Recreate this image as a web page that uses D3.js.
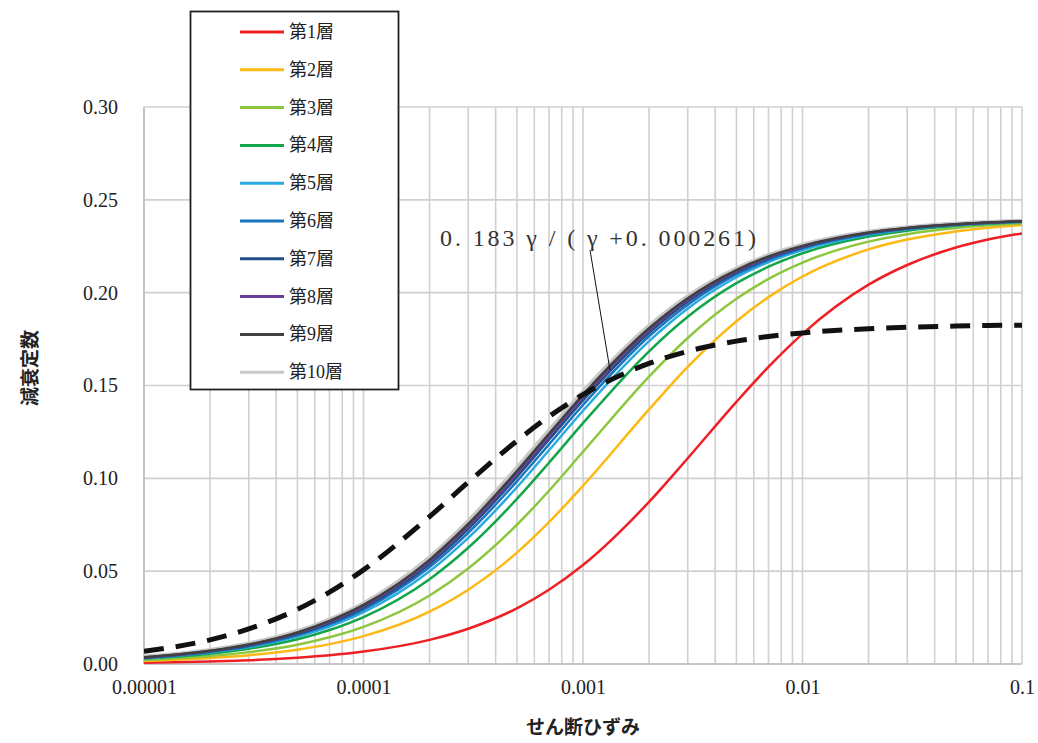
<!DOCTYPE html>
<html><head><meta charset="utf-8">
<script src="https://cdn.jsdelivr.net/npm/d3@7"></script>
<style>body{margin:0;background:#fff}</style>
</head><body>
<svg id="c" width="1038" height="743"></svg>
<script>
const strain = [1e-5,2e-5,3e-5,5e-5,7e-5,1e-4,2e-4,3e-4,5e-4,7e-4,1e-3,2e-3,3e-3,5e-3,7e-3,1e-2,2e-2,3e-2,5e-2,7e-2,0.1];
const layerNames = ["第1層","第2層","第3層","第4層","第5層","第6層","第7層","第8層","第9層","第10層"];
const layerColors = ["#ee2026","#fdb913","#8dc63f","#13a54a","#29abe2","#1b75bc","#1f4e89","#6a3f9b","#404040","#c8c8c8"];
const layer1 = [0.0007,0.0014,0.0020,0.0034,0.0047,0.0067,0.0130,0.0190,0.0300,0.0400,0.0533,0.0873,0.1108,0.1412,0.1600,0.1778,0.2043,0.2149,0.2243,0.2286,0.2319];
const layer2 = [0.0016,0.0032,0.0047,0.0077,0.0107,0.0150,0.0282,0.0400,0.0600,0.0764,0.0960,0.1371,0.1600,0.1846,0.1976,0.2087,0.2233,0.2286,0.2330,0.2350,0.2365];
const layer3 = [0.0022,0.0043,0.0064,0.0104,0.0144,0.0200,0.0369,0.0514,0.0750,0.0933,0.1143,0.1548,0.1756,0.1967,0.2074,0.2162,0.2275,0.2315,0.2348,0.2363,0.2374];
const layer4 = [0.0028,0.0055,0.0082,0.0133,0.0183,0.0253,0.0457,0.0626,0.0889,0.1084,0.1297,0.1684,0.1870,0.2051,0.2140,0.2212,0.2302,0.2334,0.2360,0.2371,0.2380];
const layer5 = [0.0031,0.0062,0.0091,0.0148,0.0202,0.0279,0.0500,0.0679,0.0952,0.1151,0.1364,0.1739,0.1915,0.2083,0.2165,0.2230,0.2312,0.2341,0.2364,0.2374,0.2382];
const layer6 = [0.0033,0.0065,0.0096,0.0156,0.0213,0.0293,0.0522,0.0706,0.0984,0.1183,0.1395,0.1765,0.1935,0.2098,0.2176,0.2239,0.2317,0.2344,0.2366,0.2376,0.2383];
const layer7 = [0.0034,0.0068,0.0100,0.0162,0.0221,0.0304,0.0539,0.0727,0.1008,0.1209,0.1420,0.1784,0.1951,0.2109,0.2185,0.2245,0.2320,0.2346,0.2367,0.2377,0.2384];
const layer8 = [0.0035,0.0070,0.0103,0.0167,0.0227,0.0312,0.0552,0.0742,0.1026,0.1226,0.1437,0.1798,0.1962,0.2116,0.2190,0.2249,0.2322,0.2348,0.2368,0.2377,0.2384];
const layer9 = [0.0036,0.0071,0.0105,0.0170,0.0232,0.0318,0.0561,0.0754,0.1039,0.1240,0.1450,0.1808,0.1970,0.2122,0.2195,0.2252,0.2324,0.2349,0.2369,0.2378,0.2384];
const layer10 = [0.0037,0.0073,0.0108,0.0174,0.0237,0.0324,0.0571,0.0766,0.1053,0.1254,0.1463,0.1818,0.1978,0.2128,0.2199,0.2256,0.2326,0.2350,0.2370,0.2378,0.2385];
const fitCurve = [0.0068,0.0130,0.0189,0.0294,0.0387,0.0507,0.0794,0.0979,0.1202,0.1333,0.1451,0.1619,0.1684,0.1739,0.1764,0.1783,0.1806,0.1814,0.1820,0.1823,0.1825];
const fitLabel = "0. 183 γ / ( γ +0. 000261)";
const xTicks = [1e-5,1e-4,1e-3,1e-2,1e-1];
const xTickLabels = ["0.00001","0.0001","0.001","0.01","0.1"];
const yTicks = [0,0.05,0.10,0.15,0.20,0.25,0.30];
const layers = [layer1,layer2,layer3,layer4,layer5,layer6,layer7,layer8,layer9,layer10];

const svg = d3.select("#c");
const L=144, R=1022, T=107, B=664;
const x = d3.scaleLog().domain([1e-5,0.1]).range([L,R]);
const y = d3.scaleLinear().domain([0,0.30]).range([B,T]);
const serif = "'Liberation Serif','Times New Roman','Noto Sans CJK JP',serif";

// grid
const minor = [];
for (let e=-5;e<-1;e++) for (let m=1;m<=9;m++) minor.push(m*Math.pow(10,e));
minor.push(0.1);
const g = svg.append("g");
g.selectAll("line.v").data(minor).join("line")
  .attr("x1",d=>x(d)).attr("x2",d=>x(d)).attr("y1",T).attr("y2",B)
  .attr("stroke","#d0d0d0").attr("stroke-width",1.6);
g.selectAll("line.h").data(yTicks).join("line")
  .attr("x1",L).attr("x2",R).attr("y1",d=>y(d)).attr("y2",d=>y(d))
  .attr("stroke","#d0d0d0").attr("stroke-width",1.6);
svg.append("line").attr("x1",L).attr("x2",L).attr("y1",T).attr("y2",B).attr("stroke","#bfbfbf").attr("stroke-width",1.6);
svg.append("line").attr("x1",L).attr("x2",R).attr("y1",B).attr("y2",B).attr("stroke","#bfbfbf").attr("stroke-width",1.6);

// tick labels
const yAxis = d3.axisLeft(y).tickValues(yTicks).tickFormat(d3.format(".2f")).tickSize(0).tickPadding(26);
const ya = svg.append("g").attr("transform",`translate(${L},0)`).call(yAxis);
ya.select(".domain").remove();
ya.selectAll("text").attr("font-family",serif).attr("font-size",20).attr("fill","#222");
const xAxis = d3.axisBottom(x).tickValues(xTicks).tickFormat((d,i)=>xTickLabels[i]).tickSize(0).tickPadding(16);
const xa = svg.append("g").attr("transform",`translate(0,${B})`).call(xAxis);
xa.select(".domain").remove();
xa.selectAll("text").attr("font-family",serif).attr("font-size",20).attr("fill","#222");

// curves
const line = d3.line().x((d,i)=>x(strain[i])).y(d=>y(d)).curve(d3.curveMonotoneX);
svg.append("clipPath").attr("id","pc").append("rect").attr("x",L).attr("y",T-5).attr("width",R-L).attr("height",B-T+5);
const cg = svg.append("g").attr("clip-path","url(#pc)");
cg.append("path").attr("d",line(layer10)).attr("fill","none").attr("stroke",layerColors[9]).attr("stroke-width",5);
layers.slice(0,9).forEach((arr,i)=>{
  cg.append("path").attr("d",line(arr)).attr("fill","none").attr("stroke",layerColors[i]).attr("stroke-width",2.5);
});
cg.append("path").attr("d",line(fitCurve)).attr("fill","none").attr("stroke","#111")
  .attr("stroke-width",5).attr("stroke-dasharray","20,12");

// annotation
svg.append("line").attr("x1",590).attr("y1",250).attr("x2",610).attr("y2",370).attr("stroke","#111").attr("stroke-width",1);
svg.append("text").attr("x",440).attr("y",246).text(fitLabel)
  .attr("font-family",serif).attr("font-size",24).attr("letter-spacing",2.9).attr("fill","#333");

// legend
svg.append("rect").attr("x",190.5).attr("y",11.5).attr("width",208).attr("height",378)
  .attr("fill","#fff").attr("stroke","#222").attr("stroke-width",1.8);
const lg = svg.append("g");
layerNames.forEach((n,i)=>{
  const yy = 32 + i*37.8;
  lg.append("line").attr("x1",240).attr("x2",284).attr("y1",yy).attr("y2",yy)
    .attr("stroke",layerColors[i]).attr("stroke-width",3);
  lg.append("text").attr("x",289).attr("y",yy+6).text(n)
    .attr("font-family",serif).attr("font-size",18).attr("fill","#222");
});

// axis titles
svg.append("text").attr("x",583).attr("y",734).attr("text-anchor","middle").text("せん断ひずみ")
  .attr("font-family","'Noto Sans CJK JP',sans-serif").attr("font-weight","bold").attr("font-size",19).attr("fill","#222");
svg.append("text").attr("transform","translate(37,368) rotate(-90)").attr("text-anchor","middle").text("減衰定数")
  .attr("font-family","'Noto Sans CJK JP',sans-serif").attr("font-weight","bold").attr("font-size",19).attr("fill","#222");
</script>
</body></html>
